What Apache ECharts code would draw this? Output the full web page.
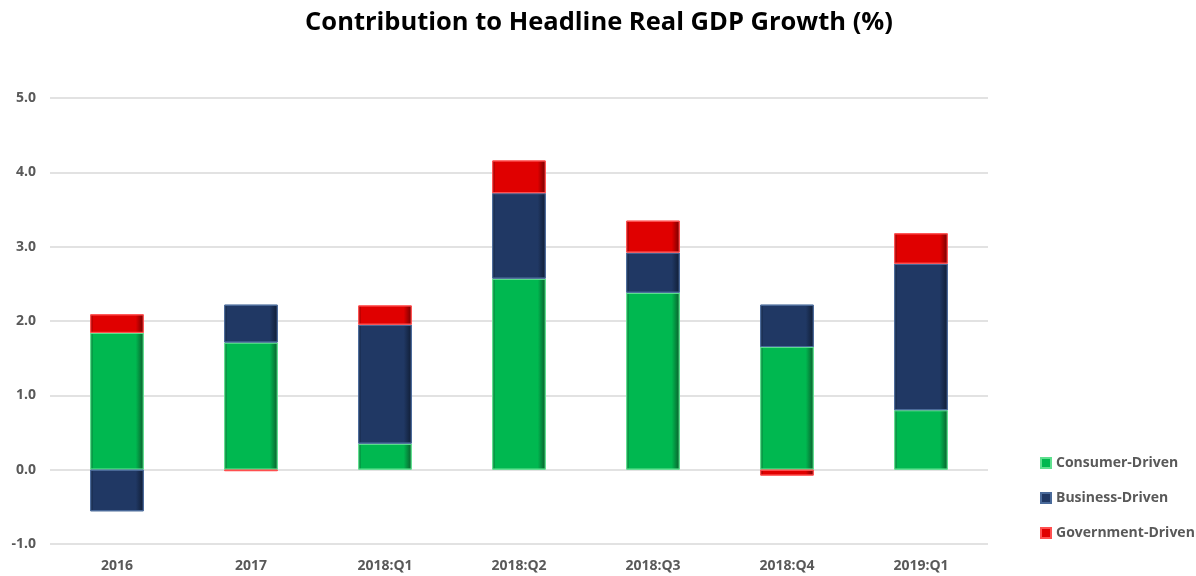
<!DOCTYPE html>
<html>
<head>
<meta charset="utf-8">
<script src="https://cdn.jsdelivr.net/npm/echarts@6/dist/echarts.min.js"></script>
<style>
  html, body { margin: 0; padding: 0; background: #fff; }
  #chart { width: 1196px; height: 576px; }
</style>
</head>
<body>
<div id="chart"></div>
<script>
// 数据
var categories = ["2016", "2017", "2018:Q1", "2018:Q2", "2018:Q3", "2018:Q4", "2019:Q1"];
var consumer = [1.84, 1.71, 0.35, 2.57, 2.38, 1.65, 0.80];
var business = [-0.56, 0.51, 1.60, 1.15, 0.54, 0.57, 1.97];
var government = [0.25, -0.02, 0.26, 0.44, 0.43, -0.08, 0.41];
var yTicks = [-1, 0, 1, 2, 3, 4, 5];

// 斜面效果的渐变
function bevel(mid, dark) {
  return {
    type: "linear", x: 0, y: 0, x2: 1, y2: 0,
    colorStops: [
      { offset: 0, color: dark },
      { offset: 0.06, color: mid },
      { offset: 0.85, color: mid },
      { offset: 1, color: dark }
    ]
  };
}

function makeSeries(name, data, light, mid, dark) {
  return {
    name: name,
    type: "bar",
    stack: "total",
    barWidth: "40%",
    data: data,
    itemStyle: {
      color: bevel(mid, dark),
      borderColor: light,
      borderWidth: 1
    }
  };
}

var myChart = echarts.init(document.getElementById("chart"));
var option = {
  backgroundColor: "#ffffff",
  title: {
    text: "Contribution to Headline Real GDP Growth (%)",
    left: 594,
    top: 5,
    textAlign: "center",
    textStyle: { fontFamily: "Open Sans", fontWeight: "bold", fontSize: 25.5, color: "#000" }
  },
  legend: {
    orient: "vertical",
    left: 1035,
    top: 451,
    itemGap: 21,
    itemWidth: 10,
    itemHeight: 10,
    icon: "rect",
    data: ["Consumer-Driven", "Business-Driven", "Government-Driven"],
    textStyle: { fontFamily: "Open Sans", fontWeight: "bold", fontSize: 14, color: "#595959" }
  },
  grid: { left: 50, right: 208, top: 98, bottom: 32 },
  xAxis: {
    type: "category",
    data: categories,
    axisLine: { show: false, onZero: false },
    axisTick: { show: false },
    axisLabel: { margin: 15, fontFamily: "Open Sans", fontWeight: "bold", fontSize: 14, color: "#595959" }
  },
  yAxis: {
    type: "value",
    min: yTicks[0],
    max: yTicks[yTicks.length - 1],
    interval: 1,
    axisLabel: {
      margin: 14,
      fontFamily: "Open Sans", fontWeight: "bold", fontSize: 14, color: "#595959",
      formatter: function (v) { return v.toFixed(1); }
    },
    splitLine: { lineStyle: { color: "#d9d9d9", width: 1.5 } }
  },
  series: [
    makeSeries("Consumer-Driven", consumer, "#5fe08f", "#00b850", "#0a5a2a"),
    makeSeries("Business-Driven", business, "#4a6a9a", "#203864", "#0f1c33"),
    makeSeries("Government-Driven", government, "#ff5050", "#e00000", "#700000")
  ],
  color: ["#00b850", "#203864", "#e00000"]
};
myChart.setOption(option);
window.onresize = myChart.resize;
</script>
</body>
</html>
